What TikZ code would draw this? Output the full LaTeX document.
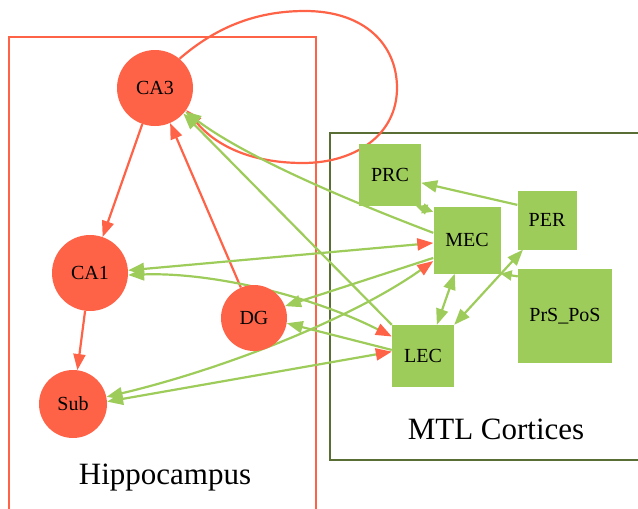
\documentclass[tikz,border=0pt]{standalone}
\usepackage{fontspec}
\setmainfont{Liberation Serif}
\usetikzlibrary{arrows.meta,backgrounds}
\definecolor{tom}{RGB}{255,99,71}
\definecolor{ygr}{RGB}{158,204,90}
\definecolor{dog}{RGB}{88,110,52}
\tikzset{
  greentip/.tip={Triangle[length=16pt,width=12pt,color=ygr]},
  redtip/.tip={Triangle[length=16pt,width=12pt,color=tom]},
  smalltip/.tip={Triangle[length=11pt,width=10pt,color=ygr]},
  hip/.style={circle,fill=tom,draw=none,inner sep=0pt,minimum size=#1,font=\fontsize{20}{22}\selectfont},
  ctx/.style={rectangle,fill=ygr,draw=none,inner sep=0pt,minimum size=#1,font=\fontsize{20}{22}\selectfont},
  redge/.style={draw=tom,line width=2.2pt,-redtip},
  gedge/.style={draw=ygr,line width=2.2pt},
  biglabel/.style={font=\fontsize{31}{36}\selectfont}
}
\begin{document}
\begin{tikzpicture}[x=1pt,y=-1pt]
\useasboundingbox (0,0) rectangle (638,509);
\clip (0,0) rectangle (638,509);

% nodes
\node[hip=76pt] (CA3) at (155,88) {CA3};
\node[hip=76pt] (CA1) at (90,273) {CA1};
\node[hip=66pt] (DG) at (254,318) {DG};
\node[hip=68pt] (Sub) at (73,404) {Sub};
\node[ctx=62pt] (PRC) at (390,175) {PRC};
\node[ctx=67pt] (MEC) at (467,240) {MEC};
\node[ctx=59pt] (PER) at (547,220) {PER};
\node[ctx=94pt] (PRS) at (565,316) {PrS\_PoS};
\node[ctx=62pt] (LEC) at (423,356) {LEC};

\node[biglabel] (hlab) at (165,478) {Hippocampus};
\node[biglabel] (mlab) at (496,429) {MTL Cortices};

\begin{pgfonlayer}{background}
\clip (0,0) rectangle (638,509);
\fill[white] (0,0) rectangle (638,509);
\draw[tom, line width=2.2pt] (9,37) rectangle (316,540);
\draw[dog, line width=2.6pt] (330,133) rectangle (660,460);

% red edges
\draw[redge] (CA3) -- (CA1);
\draw[redge] (DG) -- (CA3);
\draw[redge] (CA1) -- (Sub);
\draw[redge] (CA3.50) .. controls (215,28) and (255,11) .. (305,11)
  .. controls (365,11) and (397,45) .. (397,88)
  .. controls (397,135) and (355,163) .. (303,163)
  .. controls (250,163) and (215,145) .. (CA3.-35);

% green edges
\draw[gedge,-greentip] (MEC.168) .. controls (360,205) and (250,160) .. (CA3.-38);
\draw[gedge,-greentip] (LEC.135) -- (CA3.-42);
\draw[gedge,greentip-redtip] (CA1.4) -- (MEC.185);
\draw[gedge,greentip-redtip] (CA1.-3) .. controls (210,272) and (310,295) .. (LEC.148);
\draw[gedge,-greentip] (MEC.208) -- (DG.21);
\draw[gedge,greentip-redtip] (Sub.12) .. controls (220,370) and (350,320) .. (MEC.212);
\draw[gedge,greentip-redtip] (Sub.4) -- (LEC.172);
\draw[gedge,-greentip] (LEC.169) -- (DG.-9);
\draw[gedge,-greentip] (PER.153) -- (PRC.-14);
\draw[gedge,smalltip-smalltip] (PRC.-50) -- (MEC.140);
\draw[gedge,greentip-greentip] (MEC.-110) -- (LEC.66);
\draw[gedge,greentip-greentip] (LEC.45) -- (PER.231);
\draw[gedge,-smalltip] (PRS.140) -- (MEC.-45);
\end{pgfonlayer}
\end{tikzpicture}
\end{document}
